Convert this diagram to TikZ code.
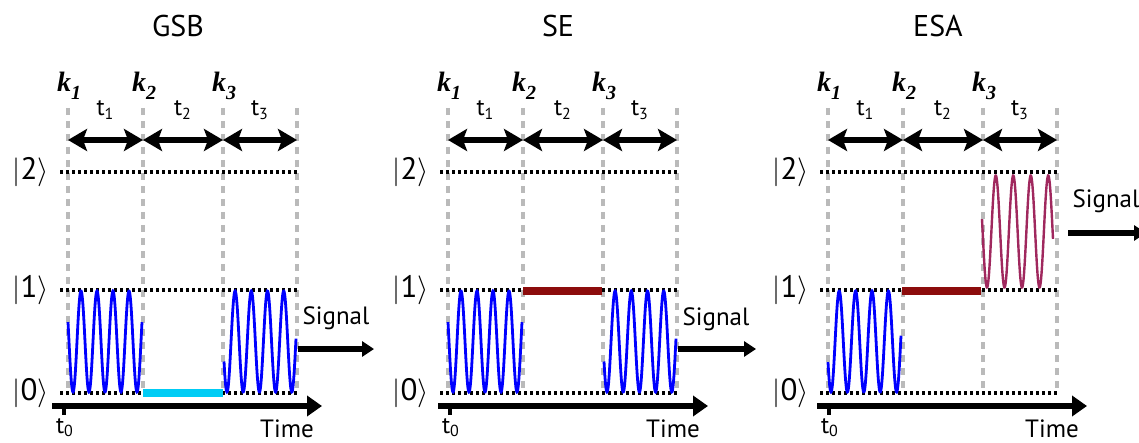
\documentclass[tikz,border=0pt]{standalone}
\usepackage{fontspec}
\setmainfont{PT Sans}
\newfontfamily\kfont{Liberation Serif}
\usepackage{tikz}
\usetikzlibrary{arrows.meta,calc}
\definecolor{wavBlue}{HTML}{0000FF}
\definecolor{wavPlum}{HTML}{A0285E}
\definecolor{popCyan}{HTML}{00CCF5}
\definecolor{popRed}{HTML}{8C0C0C}
\colorlet{guideGray}{black!27}

\begin{document}
\begin{tikzpicture}[
        x=0.5pt,
        y=-0.5pt,
        guide/.style={guideGray, line width=2pt, dash pattern=on 3.5pt off 3pt},
        level/.style={black, line width=1.7pt, dash pattern=on 1.5pt off 1.5pt},
        span/.style={{Stealth[length=9.5pt,width=11pt,inset=2pt]}-{Stealth[length=9.5pt,width=11pt,inset=2pt]}, line width=2.7pt},
        axis/.style={-{Triangle[length=7.5pt,width=10pt]}, line width=3pt},
        sig/.style={-{Triangle[length=6pt,width=7.5pt]}, line width=2.8pt},
        osc/.style={line width=1.4pt, samples=220, smooth},
        pop/.style={line width=3.8pt},
        ttl/.style={font=\fontsize{15}{18}\selectfont, anchor=base},
        klab/.style={font=\kfont\bfseries\itshape\fontsize{14}{16}\selectfont, anchor=base, inner sep=0pt},
        tlab/.style={font=\fontsize{12}{14}\selectfont, anchor=base, inner sep=0pt},
        state/.style={font=\fontsize{15.5}{18}\selectfont, anchor=east, inner sep=0pt},
        txt/.style={font=\fontsize{12.5}{15}\selectfont, anchor=base, inner sep=0pt}
    ]
        \useasboundingbox (0,0) rectangle (1139,443);

        % Common frame of the three panels: pulses, delays, levels and time axis.
        \foreach \dx/\nm/\ttl/\ax in {0/gsb/GSB/52, 380/se/SE/438, 760/esa/ESA/817} {
            \node[ttl] (\nm-title) at (178+\dx,37) {\ttl};
            \foreach \i/\xx in {1/68, 2/143, 3/223, 4/297}
                \coordinate (\nm-g\i) at (\xx+\dx,140);
            \foreach \i in {1,...,4}
                \draw[guide] (\nm-g\i) ++(0,-32) -- ++(0,285);
            \foreach \i/\j in {1/2, 2/3, 3/4} {
                \draw[span] (\nm-g\i) -- (\nm-g\j);
                \node[klab] (\nm-k\i) at ($(\nm-g\i)+(1,-48)$) {k\raisebox{-4pt}{\fontsize{10}{10}\selectfont\i}};
                \node[tlab] (\nm-t\i) at ($(\nm-g\i)!0.5!(\nm-g\j)+(0,-24)$) {t\textsubscript{\i}};
            }
            \foreach \lv/\yy in {0/393, 1/290, 2/172} {
                \draw[level] (60+\dx,\yy) -- (297+\dx,\yy);
                \node[state] (\nm-s\lv) at (49+\dx,\yy) {$|$\lv$\rangle$};
            }
            \coordinate (\nm-t0) at (\ax,406);
            \coordinate (\nm-tend) at (\ax+270,406);
            \coordinate (\nm-tick) at (\ax+12,406);
            \draw[axis] (\nm-t0) -- (\nm-tend);
            \draw[line width=2.2pt] (\nm-tick) -- ++(0,9);
            \node[tlab] (\nm-t0lab) at (\ax+13,433) {t\textsubscript{0}};
            \node[txt] (\nm-time) at (\ax+235,437) {Time};
        }

        % GSB: ground state bleach.
        \draw[osc, wavBlue] plot[domain=68:142] (\x,{341.5+50.5*cos((\x-73)/16*360)});
        \draw[pop, popCyan] (143,393) -- (223,393);
        \draw[osc, wavBlue] plot[domain=224:296] (\x,{341.5+50.5*cos((\x-227)/16.2*360)});
        \coordinate (gsb-sa) at (298,349);
        \coordinate (gsb-sb) at (374,349);
        \draw[sig] (gsb-sa) -- (gsb-sb);
        \node[txt] (gsb-sig) at (336,324) {Signal};

        % SE: stimulated emission.
        \draw[osc, wavBlue] plot[domain=448:522] (\x,{341.5+50.5*cos((\x-453)/16*360)});
        \draw[pop, popRed] (523,291) -- (602,291);
        \draw[osc, wavBlue] plot[domain=604:676] (\x,{341.5+50.5*cos((\x-607)/16.2*360)});
        \coordinate (se-sa) at (678,349);
        \coordinate (se-sb) at (756,349);
        \draw[sig] (se-sa) -- (se-sb);
        \node[txt] (se-sig) at (716,325) {Signal};

        % ESA: excited state absorption.
        \draw[osc, wavBlue] plot[domain=828:901] (\x,{341.5+50.5*cos((\x-831)/16.4*360)});
        \draw[pop, popRed] (902,291) -- (981,291);
        \draw[osc, wavPlum, line width=1.2pt] plot[domain=982:1053] (\x,{231.5+56*cos((\x-987)/17.5*360)});
        \coordinate (esa-sa) at (1068,233);
        \coordinate (esa-sb) at (1146,233);
        \draw[sig] (esa-sa) -- (esa-sb);
        \node[txt] (esa-sig) at (1106,208) {Signal};
    \end{tikzpicture}
\end{document}
